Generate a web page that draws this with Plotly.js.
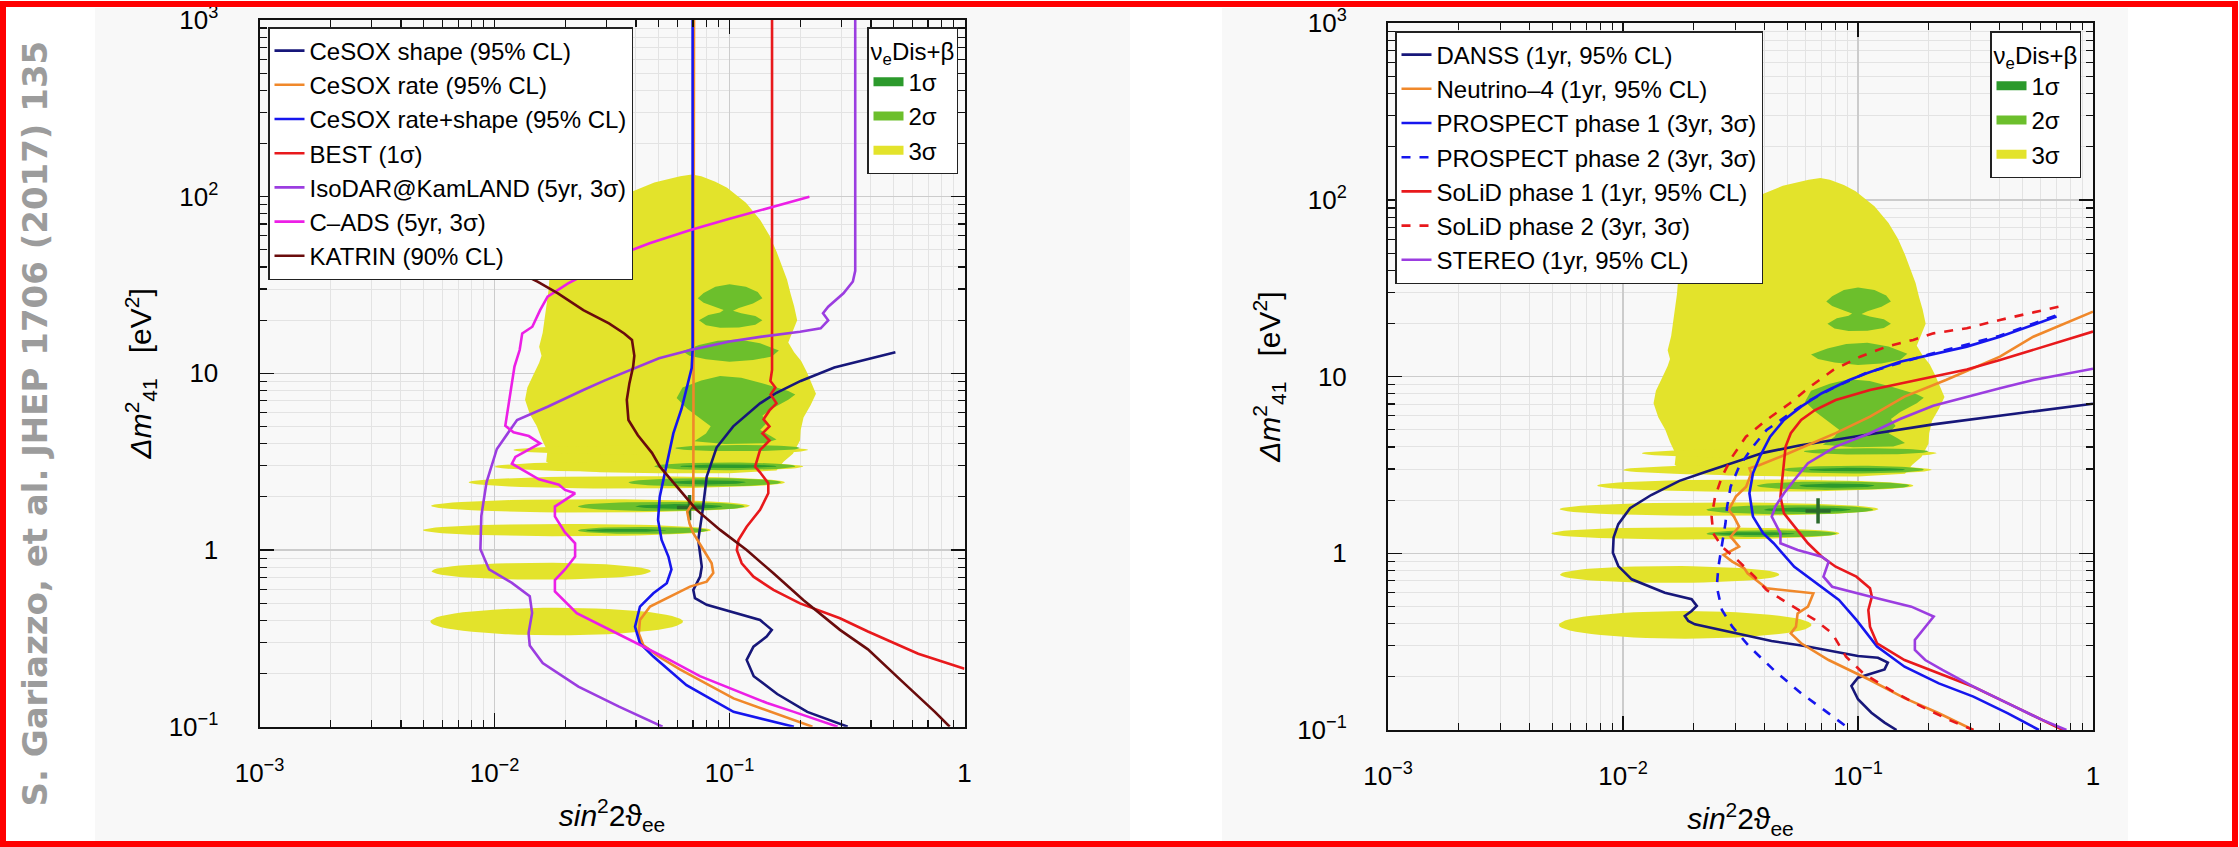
<!DOCTYPE html>
<html>
<head>
<meta charset="utf-8">
<script src="https://cdn.plot.ly/plotly-3.0.1.min.js"></script>
<style>
  html, body { margin: 0; padding: 0; background: #ffffff; }
  #chart { width: 2239px; height: 847px; }
</style>
</head>
<body>
<div id="chart"></div>
<script>
// All coordinates below are [log10(sin^2 2theta_ee), log10(Delta m^2_41 / eV^2)].

// ---- nu_e disappearance + beta decay allowed regions ----
const region3Outline = [[-1.21,2.115],[-1.16,2.125],[-1.12,2.115],[-1.06,2.085],[-1.01,2.05],[-0.96,2.0],[-0.93,1.965],[-0.87,1.87],[-0.83,1.78],[-0.80,1.69],[-0.775,1.60],[-0.755,1.53],[-0.74,1.45],[-0.725,1.38],[-0.712,1.30],[-0.735,1.225],[-0.75,1.175],[-0.725,1.12],[-0.695,1.07],[-0.672,1.01],[-0.648,0.94],[-0.632,0.885],[-0.655,0.82],[-0.685,0.75],[-0.697,0.68],[-0.70,0.62],[-0.73,0.545],[-0.77,0.50],[-0.80,0.45],[-1.0,0.435],[-1.3,0.435],[-1.55,0.44],[-1.72,0.455],[-1.78,0.50],[-1.775,0.56],[-1.80,0.63],[-1.82,0.70],[-1.85,0.77],[-1.87,0.85],[-1.86,0.92],[-1.835,0.99],[-1.81,1.06],[-1.80,1.10],[-1.81,1.15],[-1.795,1.23],[-1.785,1.33],[-1.78,1.40],[-1.77,1.47],[-1.765,1.56],[-1.745,1.64],[-1.70,1.76],[-1.60,1.89],[-1.45,2.01],[-1.32,2.08]];

// horizontal islands of the 3 sigma region: centre, left end, right end, half thickness
const band3Center = [0.566, 0.472, 0.383, 0.25, 0.113, -0.12, -0.405];
const band3Left   = [-1.92, -2.0, -2.11, -2.27, -2.305, -2.268, -2.273];
const band3Right  = [-0.665, -0.686, -0.764, -0.913, -1.079, -1.335, -1.198];
const band3Half   = [0.026, 0.03, 0.035, 0.038, 0.035, 0.048, 0.078];

const region2Bowtie = [[-1.0,1.505],[-0.93,1.49],[-0.88,1.46],[-0.86,1.425],[-0.90,1.395],[-0.96,1.37],[-0.985,1.355],[-0.95,1.34],[-0.89,1.325],[-0.86,1.30],[-0.89,1.275],[-0.96,1.26],[-1.04,1.258],[-1.10,1.272],[-1.13,1.30],[-1.09,1.33],[-1.04,1.345],[-1.025,1.358],[-1.06,1.375],[-1.11,1.40],[-1.135,1.425],[-1.11,1.455],[-1.06,1.49]];
const region2Middle = [[-1.20,1.125],[-1.13,1.16],[-1.05,1.185],[-0.96,1.192],[-0.87,1.17],[-0.79,1.13],[-0.82,1.095],[-0.90,1.075],[-1.00,1.066],[-1.10,1.08],[-1.17,1.10]];
const region2Lower = [[-1.04,0.985],[-0.95,0.975],[-0.85,0.94],[-0.75,0.90],[-0.72,0.88],[-0.75,0.85],[-0.82,0.80],[-0.86,0.76],[-0.84,0.72],[-0.87,0.68],[-0.83,0.65],[-0.80,0.625],[-0.85,0.605],[-1.02,0.60],[-1.15,0.615],[-1.10,0.66],[-1.08,0.70],[-1.12,0.74],[-1.18,0.80],[-1.225,0.86],[-1.20,0.92],[-1.12,0.96]];

const band2Center = [0.577, 0.474, 0.383, 0.247, 0.111];
const band2Left   = [-1.23, -1.32, -1.43, -1.645, -1.645];
const band2Right  = [-0.70, -0.72, -0.78, -0.935, -1.09];
const band2Half   = [0.018, 0.022, 0.024, 0.026, 0.02];

const band1Center = [0.474, 0.383, 0.247, 0.111];
const band1Left   = [-1.21, -1.25, -1.40, -1.61];
const band1Right  = [-0.80, -0.93, -1.03, -1.27];
const band1Half   = [0.01, 0.012, 0.013, 0.009];

const bestFit = [[-1.17, 0.24]];

// ---- sensitivity curves, left panel ----
const cesoxShape = [[-0.294,1.12],[-0.554,1.033],[-0.697,0.957],[-0.80,0.89],[-0.87,0.83],[-0.984,0.70],[-1.055,0.58],[-1.097,0.415],[-1.114,0.227],[-1.133,0.057],[-1.118,-0.094],[-1.125,-0.15],[-1.154,-0.226],[-1.147,-0.273],[-1.097,-0.31],[-0.97,-0.358],[-0.87,-0.396],[-0.82,-0.452],[-0.842,-0.49],[-0.898,-0.547],[-0.927,-0.622],[-0.897,-0.714],[-0.797,-0.815],[-0.669,-0.916],[-0.497,-1.0]];
const cesoxRate = [[-1.151,3],[-1.154,0.273],[-1.18,0.217],[-1.17,0.15],[-1.154,0.095],[-1.111,0.0],[-1.076,-0.075],[-1.069,-0.13],[-1.097,-0.179],[-1.168,-0.207],[-1.253,-0.264],[-1.338,-0.32],[-1.381,-0.396],[-1.386,-0.472],[-1.367,-0.538],[-1.30,-0.604],[-1.211,-0.676],[-0.983,-0.84],[-0.647,-1.0]];
const cesoxRateShape = [[-1.157,3],[-1.157,1.134],[-1.161,1.03],[-1.204,0.80],[-1.239,0.66],[-1.274,0.45],[-1.297,0.30],[-1.304,0.17],[-1.289,0.057],[-1.26,-0.037],[-1.247,-0.11],[-1.267,-0.188],[-1.324,-0.245],[-1.381,-0.32],[-1.402,-0.434],[-1.381,-0.528],[-1.324,-0.603],[-1.183,-0.765],[-0.983,-0.916],[-0.726,-1.0]];
const best = [[-0.819,3],[-0.819,1.02],[-0.826,0.957],[-0.805,0.92],[-0.825,0.88],[-0.80,0.83],[-0.83,0.79],[-0.855,0.74],[-0.83,0.70],[-0.86,0.66],[-0.83,0.62],[-0.87,0.566],[-0.891,0.472],[-0.87,0.44],[-0.835,0.378],[-0.835,0.321],[-0.87,0.227],[-0.927,0.132],[-0.962,0.057],[-0.969,0.0],[-0.948,-0.075],[-0.898,-0.151],[-0.813,-0.226],[-0.70,-0.302],[-0.53,-0.386],[-0.411,-0.461],[-0.197,-0.587],[-0.054,-0.651],[0,-0.672]];
const isodar = [[-0.465,3],[-0.465,1.58],[-0.475,1.52],[-0.515,1.453],[-0.58,1.377],[-0.602,1.34],[-0.58,1.30],[-0.612,1.255],[-0.70,1.235],[-0.862,1.208],[-1.0,1.18],[-1.166,1.132],[-1.30,1.085],[-1.426,1.019],[-1.53,0.96],[-1.622,0.906],[-1.774,0.811],[-1.904,0.736],[-1.99,0.572],[-2.034,0.383],[-2.056,0.193],[-2.06,0.004],[-2.023,-0.11],[-1.926,-0.186],[-1.85,-0.261],[-1.84,-0.356],[-1.855,-0.47],[-1.85,-0.54],[-1.795,-0.64],[-1.643,-0.773],[-1.47,-0.886],[-1.285,-1.0]];
const cads = [[-0.66,2.0],[-0.818,1.943],[-1.0,1.875],[-1.166,1.811],[-1.34,1.736],[-1.47,1.67],[-1.578,1.585],[-1.687,1.509],[-1.774,1.434],[-1.806,1.358],[-1.839,1.264],[-1.882,1.226],[-1.893,1.132],[-1.915,1.038],[-1.926,0.943],[-1.94,0.83],[-1.954,0.704],[-1.919,0.666],[-1.854,0.645],[-1.806,0.604],[-1.911,0.527],[-1.926,0.489],[-1.811,0.40],[-1.726,0.37],[-1.70,0.34],[-1.657,0.321],[-1.743,0.246],[-1.743,0.19],[-1.70,0.10],[-1.657,0.038],[-1.657,-0.037],[-1.70,-0.11],[-1.743,-0.17],[-1.743,-0.235],[-1.65,-0.358],[-1.48,-0.471],[-1.367,-0.547],[-1.267,-0.613],[-1.126,-0.714],[-0.983,-0.79],[-0.84,-0.866],[-0.726,-0.916],[-0.554,-0.99],[-0.54,-1.0]];
const katrin = [[-2.35,2.1],[-2.15,1.85],[-1.995,1.66],[-1.947,1.604],[-1.817,1.519],[-1.73,1.453],[-1.622,1.358],[-1.513,1.283],[-1.448,1.226],[-1.415,1.189],[-1.405,1.1],[-1.41,1.038],[-1.426,0.943],[-1.437,0.85],[-1.43,0.736],[-1.39,0.65],[-1.33,0.55],[-1.296,0.472],[-1.225,0.359],[-1.14,0.227],[-1.04,0.114],[-0.927,0.0],[-0.813,-0.132],[-0.686,-0.283],[-0.53,-0.452],[-0.411,-0.562],[-0.269,-0.739],[-0.126,-0.916],[-0.063,-1.0]];

// ---- sensitivity curves, right panel ----
const danss = [[0,0.847],[-0.4,0.78],[-0.68,0.73],[-0.97,0.67],[-1.25,0.61],[-1.40,0.57],[-1.54,0.51],[-1.65,0.46],[-1.76,0.41],[-1.88,0.33],[-1.97,0.255],[-2.02,0.165],[-2.04,0.09],[-2.043,0.003],[-2.02,-0.072],[-1.963,-0.147],[-1.822,-0.223],[-1.708,-0.26],[-1.686,-0.298],[-1.708,-0.326],[-1.737,-0.355],[-1.722,-0.383],[-1.694,-0.402],[-1.538,-0.449],[-1.368,-0.496],[-1.227,-0.525],[-1.085,-0.562],[-1.0,-0.581],[-0.915,-0.591],[-0.873,-0.619],[-0.887,-0.657],[-1.0,-0.704],[-1.028,-0.751],[-1.0,-0.826],[-0.943,-0.902],[-0.887,-0.958],[-0.836,-1.0]];
const neutrino4 = [[0,1.368],[-0.254,1.226],[-0.396,1.113],[-0.626,0.981],[-0.802,0.887],[-0.949,0.774],[-1.095,0.68],[-1.242,0.595],[-1.33,0.547],[-1.418,0.50],[-1.462,0.481],[-1.454,0.453],[-1.476,0.377],[-1.52,0.321],[-1.55,0.245],[-1.528,0.208],[-1.506,0.151],[-1.542,0.094],[-1.506,0.038],[-1.572,-0.009],[-1.535,-0.047],[-1.484,-0.085],[-1.47,-0.113],[-1.389,-0.198],[-1.19,-0.226],[-1.213,-0.302],[-1.257,-0.34],[-1.264,-0.415],[-1.286,-0.453],[-1.242,-0.509],[-1.125,-0.604],[-0.949,-0.717],[-0.802,-0.82],[-0.656,-0.905],[-0.509,-1.0]];
const prospect1 = [[-0.155,1.34],[-0.254,1.292],[-0.396,1.226],[-0.537,1.17],[-0.70,1.12],[-0.821,1.085],[-0.963,1.019],[-1.037,0.981],[-1.154,0.906],[-1.242,0.83],[-1.315,0.755],[-1.374,0.66],[-1.418,0.547],[-1.447,0.453],[-1.462,0.34],[-1.447,0.208],[-1.403,0.113],[-1.359,0.057],[-1.271,-0.076],[-1.154,-0.189],[-1.081,-0.264],[-1.007,-0.377],[-0.919,-0.528],[-0.802,-0.642],[-0.656,-0.736],[-0.509,-0.811],[-0.362,-0.906],[-0.23,-1.0]];
const prospect2 = [[-0.16,1.345],[-0.40,1.23],[-0.70,1.125],[-0.963,1.022],[-1.10,0.94],[-1.20,0.87],[-1.257,0.821],[-1.389,0.698],[-1.447,0.604],[-1.506,0.491],[-1.542,0.377],[-1.557,0.264],[-1.564,0.17],[-1.579,0.038],[-1.594,-0.076],[-1.601,-0.189],[-1.579,-0.321],[-1.535,-0.415],[-1.462,-0.528],[-1.359,-0.66],[-1.242,-0.792],[-1.125,-0.906],[-1.037,-0.99],[-1.03,-1.0]];
const solid1 = [[0,1.255],[-0.254,1.151],[-0.396,1.094],[-0.537,1.04],[-0.68,1.0],[-0.80,0.965],[-0.949,0.925],[-1.095,0.868],[-1.183,0.811],[-1.242,0.755],[-1.286,0.68],[-1.308,0.604],[-1.315,0.51],[-1.323,0.415],[-1.33,0.321],[-1.315,0.226],[-1.271,0.151],[-1.213,0.057],[-1.154,-0.019],[-1.095,-0.076],[-1.007,-0.132],[-0.949,-0.198],[-0.941,-0.245],[-0.956,-0.321],[-0.949,-0.415],[-0.919,-0.509],[-0.802,-0.604],[-0.656,-0.679],[-0.509,-0.755],[-0.362,-0.849],[-0.216,-0.943],[-0.128,-1.0]];
const solid2 = [[-0.147,1.396],[-0.396,1.321],[-0.537,1.274],[-0.679,1.245],[-0.765,1.208],[-0.878,1.17],[-0.991,1.113],[-1.105,1.038],[-1.204,0.943],[-1.29,0.849],[-1.389,0.755],[-1.477,0.66],[-1.535,0.547],[-1.579,0.434],[-1.608,0.321],[-1.623,0.208],[-1.616,0.113],[-1.579,0.038],[-1.506,-0.047],[-1.44,-0.132],[-1.389,-0.208],[-1.271,-0.302],[-1.183,-0.377],[-1.11,-0.453],[-1.051,-0.585],[-0.978,-0.679],[-0.861,-0.774],[-0.729,-0.868],[-0.612,-0.943],[-0.509,-1.0]];
const stereo = [[0,1.045],[-0.254,0.981],[-0.396,0.934],[-0.509,0.896],[-0.68,0.835],[-0.821,0.76],[-0.949,0.68],[-1.095,0.604],[-1.213,0.51],[-1.271,0.415],[-1.315,0.34],[-1.352,0.264],[-1.367,0.208],[-1.345,0.151],[-1.33,0.113],[-1.33,0.057],[-1.257,0.019],[-1.154,-0.019],[-1.125,-0.047],[-1.147,-0.132],[-1.11,-0.189],[-0.949,-0.245],[-0.773,-0.302],[-0.678,-0.358],[-0.714,-0.415],[-0.758,-0.49],[-0.758,-0.547],[-0.714,-0.604],[-0.641,-0.66],[-0.509,-0.755],[-0.362,-0.849],[-0.216,-0.943],[-0.113,-1.0]];

// ---- labels and ticks ----
const leftNames  = ['CeSOX shape (95% CL)', 'CeSOX rate (95% CL)', 'CeSOX rate+shape (95% CL)', 'BEST (1σ)', 'IsoDAR@KamLAND (5yr, 3σ)', 'C–ADS (5yr, 3σ)', 'KATRIN (90% CL)'];
const rightNames = ['DANSS (1yr, 95% CL)', 'Neutrino–4 (1yr, 95% CL)', 'PROSPECT phase 1 (3yr, 3σ)', 'PROSPECT phase 2 (3yr, 3σ)', 'SoLiD phase 1 (1yr, 95% CL)', 'SoLiD phase 2 (3yr, 3σ)', 'STEREO (1yr, 95% CL)'];
const regionNames = ['1σ', '2σ', '3σ'];
const xTickVals = [0.001, 0.01, 0.1, 1];
const xTickText = ['10<sup>−3</sup>', '10<sup>−2</sup>', '10<sup>−1</sup>', '1'];
const yTickVals = [0.1, 1, 10, 100, 1000];
const yTickText = ['10<sup>−1</sup>', '1', '10', '10<sup>2</sup>', '10<sup>3</sup>'];

// ---- styling ----
const FONT = 'Liberation Sans, Arial, Helvetica, sans-serif';
const C1 = '#2c9a2c', C2 = '#6cbf2c', C3 = '#e3e32b';
const NAVY = '#17177a', ORANGE = '#f0882a', BLUE = '#1616ee', RED = '#e8191c', PURPLE = '#9b3de0', MAGENTA = '#ec1fe6', DARKRED = '#6a0c0c';
const W = 2239, H = 847;

const p10 = v => Math.pow(10, v);
function split(pairs) { return { x: pairs.map(p => p10(p[0])), y: pairs.map(p => p10(p[1])) }; }
function band(l, r, c, h) {
  const xs = [], ys = [], cx = (l + r) / 2, rx = (r - l) / 2;
  for (let i = 0; i <= 60; i++) {
    const t = 2 * Math.PI * i / 60;
    xs.push(p10(cx + rx * Math.cos(t)));
    ys.push(p10(c + h * Math.sin(t)));
  }
  return { x: xs, y: ys };
}
function fillTrace(xy, color, xa, ya) {
  return { type: 'scatter', mode: 'lines', x: xy.x, y: xy.y, fill: 'toself', fillcolor: color,
           line: { width: 0, color: color }, hoverinfo: 'skip', showlegend: false, xaxis: xa, yaxis: ya };
}
function regionTraces(xa, ya) {
  const t = [fillTrace(split(region3Outline), C3, xa, ya)];
  band3Center.forEach((c, i) => t.push(fillTrace(band(band3Left[i], band3Right[i], c, band3Half[i]), C3, xa, ya)));
  [region2Bowtie, region2Middle, region2Lower].forEach(p => t.push(fillTrace(split(p), C2, xa, ya)));
  band2Center.forEach((c, i) => t.push(fillTrace(band(band2Left[i], band2Right[i], c, band2Half[i]), C2, xa, ya)));
  band1Center.forEach((c, i) => t.push(fillTrace(band(band1Left[i], band1Right[i], c, band1Half[i]), C1, xa, ya)));
  const bf = split(bestFit);
  t.push({ type: 'scatter', mode: 'markers', x: bf.x, y: bf.y, xaxis: xa, yaxis: ya, showlegend: false, hoverinfo: 'skip',
           marker: { symbol: 'cross-thin', size: 18, line: { width: 3.5, color: '#2b6a2b' } } });
  return t;
}
function regionLegend(xa, ya, legend) {
  return [C1, C2, C3].map((c, i) => ({ type: 'scatter', mode: 'lines', x: [null], y: [null], xaxis: xa, yaxis: ya,
    name: regionNames[i], legend: legend, line: { color: c, width: 9 }, hoverinfo: 'skip' }));
}
function curve(pairs, name, color, dash, xa, ya, legend) {
  const xy = split(pairs);
  return { type: 'scatter', mode: 'lines', x: xy.x, y: xy.y, name: name, legend: legend, xaxis: xa, yaxis: ya,
           line: { color: color, width: 2.6, dash: dash || 'solid' }, hoverinfo: 'skip' };
}

const traces = []
  .concat(regionTraces('x', 'y'))
  .concat(regionLegend('x', 'y', 'legend2'))
  .concat([
    curve(cesoxShape, leftNames[0], NAVY, null, 'x', 'y', 'legend'),
    curve(cesoxRate, leftNames[1], ORANGE, null, 'x', 'y', 'legend'),
    curve(cesoxRateShape, leftNames[2], BLUE, null, 'x', 'y', 'legend'),
    curve(best, leftNames[3], RED, null, 'x', 'y', 'legend'),
    curve(isodar, leftNames[4], PURPLE, null, 'x', 'y', 'legend'),
    curve(cads, leftNames[5], MAGENTA, null, 'x', 'y', 'legend'),
    curve(katrin, leftNames[6], DARKRED, null, 'x', 'y', 'legend')
  ])
  .concat(regionTraces('x2', 'y2'))
  .concat(regionLegend('x2', 'y2', 'legend4'))
  .concat([
    curve(danss, rightNames[0], NAVY, null, 'x2', 'y2', 'legend3'),
    curve(neutrino4, rightNames[1], ORANGE, null, 'x2', 'y2', 'legend3'),
    curve(prospect1, rightNames[2], BLUE, null, 'x2', 'y2', 'legend3'),
    curve(prospect2, rightNames[3], BLUE, 'dash', 'x2', 'y2', 'legend3'),
    curve(solid1, rightNames[4], RED, null, 'x2', 'y2', 'legend3'),
    curve(solid2, rightNames[5], RED, 'dash', 'x2', 'y2', 'legend3'),
    curve(stereo, rightNames[6], PURPLE, null, 'x2', 'y2', 'legend3')
  ]);

function logAxis(domain, anchor, range, vals, text, title, isX) {
  return {
    type: 'log', range: range, domain: domain, anchor: anchor, fixedrange: true,
    tickmode: 'array', tickvals: vals, ticktext: text,
    ticks: 'inside', ticklen: 14, tickwidth: 1.5, tickcolor: '#111',
    showline: true, linecolor: '#111', linewidth: 2, mirror: 'ticks',
    showgrid: true, gridcolor: '#cccccc', gridwidth: 1.5, zeroline: false,
    minor: { ticks: 'inside', ticklen: 7, tickwidth: 1.2, tickcolor: '#111', dtick: 'D1',
             showgrid: true, gridcolor: '#e3e3e3', gridwidth: 1 },
    tickfont: { family: FONT, size: 26, color: '#000' },
    ticklabelstandoff: isX ? 22 : 34,
    title: { text: title, font: { family: FONT, size: 30, color: '#000' }, standoff: isX ? 18 : 8 }
  };
}
const yTitle = '<i>Δm</i><sup>2</sup><sub>41</sub>   [eV<sup>2</sup>]';
const xTitle = '<i>sin</i><sup>2</sup>2ϑ<sub>ee</sub>';

function legendBox(x, y, xanchor, extra) {
  return Object.assign({
    x: x, y: y, xanchor: xanchor, yanchor: 'top', bgcolor: '#ffffff', bordercolor: '#222', borderwidth: 1.5,
    font: { family: FONT, size: 24, color: '#000' }, traceorder: 'normal'
  }, extra || {});
}
const nuTitle = { text: 'ν<sub>e</sub>Dis+β', side: 'top center', font: { family: FONT, size: 24, color: '#000' } };

const layout = {
  width: W, height: H, margin: { l: 0, r: 0, t: 0, b: 0 },
  paper_bgcolor: '#ffffff', plot_bgcolor: '#f9f9f9',
  showlegend: true,
  xaxis:  logAxis([259.5 / W, 964.5 / W], 'y',  [-3, 0], xTickVals, xTickText, xTitle, true),
  yaxis:  logAxis([1 - 726.7 / H, 1 - 20 / H], 'x',  [-1, 3], yTickVals, yTickText, yTitle, false),
  xaxis2: logAxis([1388 / W, 2093 / W], 'y2', [-3, 0], xTickVals, xTickText, xTitle, true),
  yaxis2: logAxis([1 - 730 / H, 1 - 23.3 / H], 'x2', [-1, 3], yTickVals, yTickText, yTitle, false),
  legend:  legendBox(268 / W, 1 - 27 / H, 'left'),
  legend2: legendBox(958 / W, 1 - 27 / H, 'right', { title: nuTitle }),
  legend3: legendBox(1395 / W, 1 - 31 / H, 'left'),
  legend4: legendBox(2081 / W, 1 - 31 / H, 'right', { title: nuTitle }),
  shapes: [
    { type: 'rect', xref: 'paper', yref: 'paper', x0: 95 / W, x1: 1130 / W, y0: 1 - 843 / H, y1: 1 - 8 / H,
      fillcolor: '#f8f8f8', line: { width: 0 }, layer: 'below' },
    { type: 'rect', xref: 'paper', yref: 'paper', x0: 1222 / W, x1: 2128 / W, y0: 1 - 843 / H, y1: 1 - 8 / H,
      fillcolor: '#f8f8f8', line: { width: 0 }, layer: 'below' },
    { type: 'rect', xref: 'paper', yref: 'paper', x0: 3 / W, x1: 2235 / W, y0: 1 - 844 / H, y1: 1 - 4 / H,
      fillcolor: 'rgba(0,0,0,0)', line: { width: 6, color: '#ff0000' }, layer: 'above' }
  ],
  annotations: [
    { xref: 'paper', yref: 'paper', x: 34 / W, y: 0.5, xanchor: 'center', yanchor: 'middle', showarrow: false,
      textangle: -90, text: '<b>S. Gariazzo, et al. JHEP 1706 (2017) 135</b>',
      font: { family: 'DejaVu Sans, sans-serif', size: 34, color: '#9c9c9c' } }
  ]
};

Plotly.newPlot('chart', traces, layout, { displayModeBar: false, staticPlot: true });
</script>
</body>
</html>
